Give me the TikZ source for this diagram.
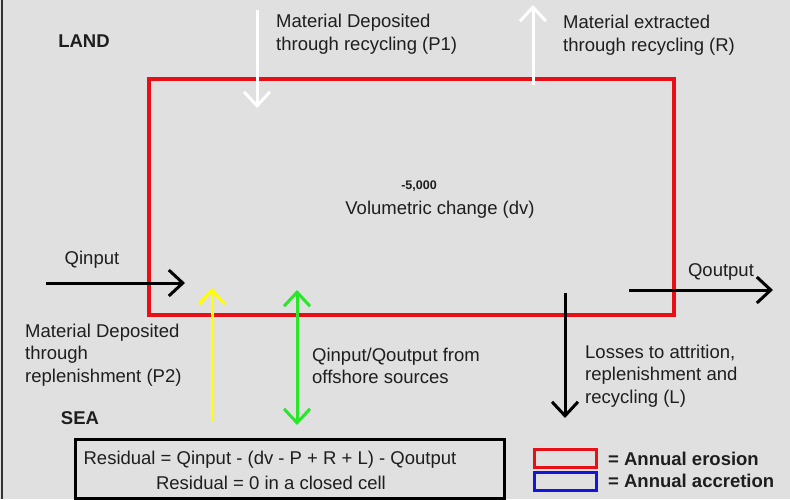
\documentclass[tikz,border=0pt]{standalone}
\usepackage{fontspec}
\setmainfont{Liberation Sans}
\usetikzlibrary{arrows.meta}
\definecolor{bg}{RGB}{224,224,224}
\definecolor{ered}{RGB}{232,16,22}
\definecolor{ablue}{RGB}{20,20,220}
\definecolor{agreen}{RGB}{40,230,40}
\definecolor{ayel}{RGB}{255,255,0}
\definecolor{txtc}{RGB}{30,30,30}
\newcommand\dfont{\fontsize{18.5}{22.5}\selectfont}
\begin{document}
\begin{tikzpicture}[x=1pt,y=-1pt,
  font=\dfont, text=txtc,
  txt/.style={inner sep=0pt, align=left, anchor=west, font=\dfont},
  bold/.style={inner sep=0pt, font=\dfont\bfseries},
  arr/.style={line width=3pt, -{Straight Barb[length=14pt,width=26pt]}},
  darr/.style={line width=3pt, {Straight Barb[length=14pt,width=26pt]}-{Straight Barb[length=14pt,width=26pt]}},
  legbox/.style={line width=3pt, minimum width=62pt, minimum height=18pt, inner sep=0pt}
]
\fill[bg] (0,0) rectangle (790,499);
\useasboundingbox (0,0) rectangle (790,499);
\draw[line width=2pt, gray!40!black] (2,0) -- (2,499);

% cell
\node[draw=ered, line width=4pt, minimum width=525pt, minimum height=236pt, inner sep=0pt, anchor=north west] (cell) at (147,77) {};
\node[inner sep=1pt, font=\fontsize{12.5}{14}\selectfont\bfseries] (dvval) at (419,186) {-5,000};
\node[inner sep=0pt] (dv) at (440,210) {Volumetric change (dv)};

% labels
\node[bold] (land) at (84,41) {LAND};
\node[bold] (sea) at (80,418) {SEA};

\node[txt] (p1txt) at (276,34) {Material Deposited\\through recycling (P1)};
\node[txt] (rtxt) at (563,35) {Material extracted\\through recycling (R)};
\node[inner sep=0pt] (qintxt) at (92,260) {Qinput};
\node[inner sep=0pt] (qouttxt) at (721,272) {Qoutput};
\node[txt] (p2txt) at (25,355) {Material Deposited\\through\\replenishment (P2)};
\node[txt] (offtxt) at (312,366) {Qinput/Qoutput from\\offshore sources};
\node[txt] (ltxt) at (585,376) {Losses to attrition,\\replenishment and\\recycling (L)};

% arrow end points
\coordinate (p1s) at (257,10);  \coordinate (p1e) at (257,108);
\coordinate (rs) at (533,85);   \coordinate (re) at (533,5);
\coordinate (qis) at (46,283);  \coordinate (qie) at (185,283);
\coordinate (ys) at (212,422);  \coordinate (ye) at (212,288);
\coordinate (gs) at (297,425);  \coordinate (ge) at (297,290);
\coordinate (qos) at (629,290); \coordinate (qoe) at (773,290);
\coordinate (ls) at (565,293);  \coordinate (le) at (565,418);

\draw[arr, white] (p1s) -- (p1e);
\draw[arr, white] (rs) -- (re);
\draw[arr, black] (qis) -- (qie);
\draw[arr, ayel] (ys) -- (ye);
\draw[darr, agreen] (gs) -- (ge);
\draw[arr, black] (qos) -- (qoe);
\draw[arr, black] (ls) -- (le);

% residual box
\node[draw=black, line width=3pt, minimum width=429pt, minimum height=59pt, inner sep=0pt, anchor=north west] (resbox) at (74,438) {};
\node[inner sep=0pt] (res1) at (270,460) {Residual = Qinput - (dv - P + R + L) - Qoutput};
\node[inner sep=0pt] (res2) at (271,483) {Residual = 0 in a closed cell};

% legend
\node[legbox, draw=ered] (legred) at (565,458) {};
\node[legbox, draw=ablue] (legblue) at (565,481) {};
\node[bold, anchor=west] (legt1) at (608,459) {= Annual erosion};
\node[bold, anchor=west] (legt2) at (608,481) {= Annual accretion};
\end{tikzpicture}
\end{document}
